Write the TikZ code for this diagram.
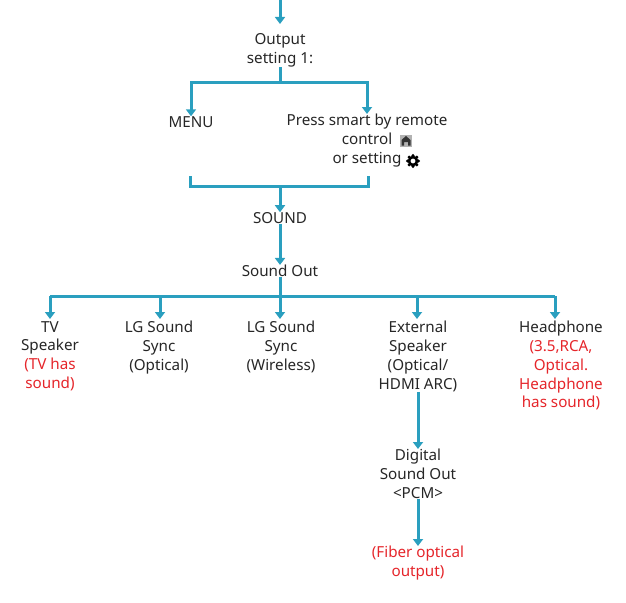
\documentclass[tikz,border=0pt]{standalone}
\usepackage{fontspec}
\setmainfont{Noto Sans}
\usetikzlibrary{arrows.meta}
\definecolor{ln}{HTML}{2A9FBF}
\definecolor{rd}{HTML}{E5252A}
\begin{document}
\begin{tikzpicture}[x=1pt,y=-1pt,
 t/.style={align=center,font=\fontsize{15.2}{18.8}\selectfont,text=black!85,inner sep=0pt},
 c/.style={draw=ln,line width=3pt},
 a/.style={c,-{Triangle[width=10pt,length=7pt]}}]
\useasboundingbox (0,0) rectangle (626,602);
% nodes
\node[t] (out) at (280,50) {Output\\setting 1:};
\node[t] (menu) at (191,122) {MENU};
\node[t,anchor=north] (press) at (367,114) {Press smart by remote\\control\hspace{22pt}\\or setting\hspace{18pt}};
\node[t] (sound) at (280,218) {SOUND};
\node[t] (sout) at (280,271) {Sound Out};
\node[t,anchor=north] (tv) at (50,321) {TV\\Speaker\\\textcolor{rd}{(TV has}\\\textcolor{rd}{sound)}};
\node[t,anchor=north] (lgo) at (159,321) {LG Sound\\Sync\\(Optical)};
\node[t,anchor=north] (lgw) at (281,321) {LG Sound\\Sync\\(Wireless)};
\node[t,anchor=north] (ext) at (418,321) {External\\Speaker\\(Optical/\\HDMI ARC)};
\node[t,anchor=north] (hp) at (561,321) {Headphone\\\textcolor{rd}{(3.5,RCA,}\\\textcolor{rd}{Optical.}\\\textcolor{rd}{Headphone}\\\textcolor{rd}{has sound)}};
\node[t,anchor=north] (dso) at (418,449) {Digital\\Sound Out\\<PCM>};
\node[t,anchor=north,text=rd] (fib) at (418,546) {(Fiber optical\\output)};
% icons
\node[fill=black!30,minimum size=12pt,inner sep=0pt] (home) at (406,141) {};
\fill[black!80] (401.5,145.5) -- (401.5,140) -- (406,136) -- (410.5,140) -- (410.5,145.5) -- (408,145.5) -- (408,142) -- (404,142) -- (404,145.5) -- cycle;
\node[circle,draw=black,line width=2.6pt,minimum size=8pt,inner sep=0pt] (gear) at (413,161) {};
\foreach \ang in {0,45,...,315}
  \fill[black] (413,161) ++(\ang:5.5) circle (1.7pt);
% connectors
\coordinate (top) at (280,0);
\draw[a] (top) -- (out.north |- 0,24);
\coordinate (j1) at (280,82);
\draw[c] (out.south) -- (j1);
\draw[a] (j1) -| (menu.north);
\draw[a] (j1) -| (press.north);
\coordinate (b1) at (190,176); \coordinate (b2) at (368,176);
\coordinate (j2) at (280,186);
\draw[c] (b1) |- (j2) -| (b2);
\draw[a] (j2) -- (sound.north);
\draw[a] (sound.south) -- (sout.north);
\coordinate (j3) at (280,296);
\draw[c] (sout.south) -- (j3);
\draw[c] (50,296) -- (555,296);
\foreach \x in {50,160,280,417,555} \draw[a] (\x,296) -- (\x,319);
\draw[a] (ext.south) -- (dso.north);
\draw[a] (dso.south) -- (fib.north);
\end{tikzpicture}
\end{document}
